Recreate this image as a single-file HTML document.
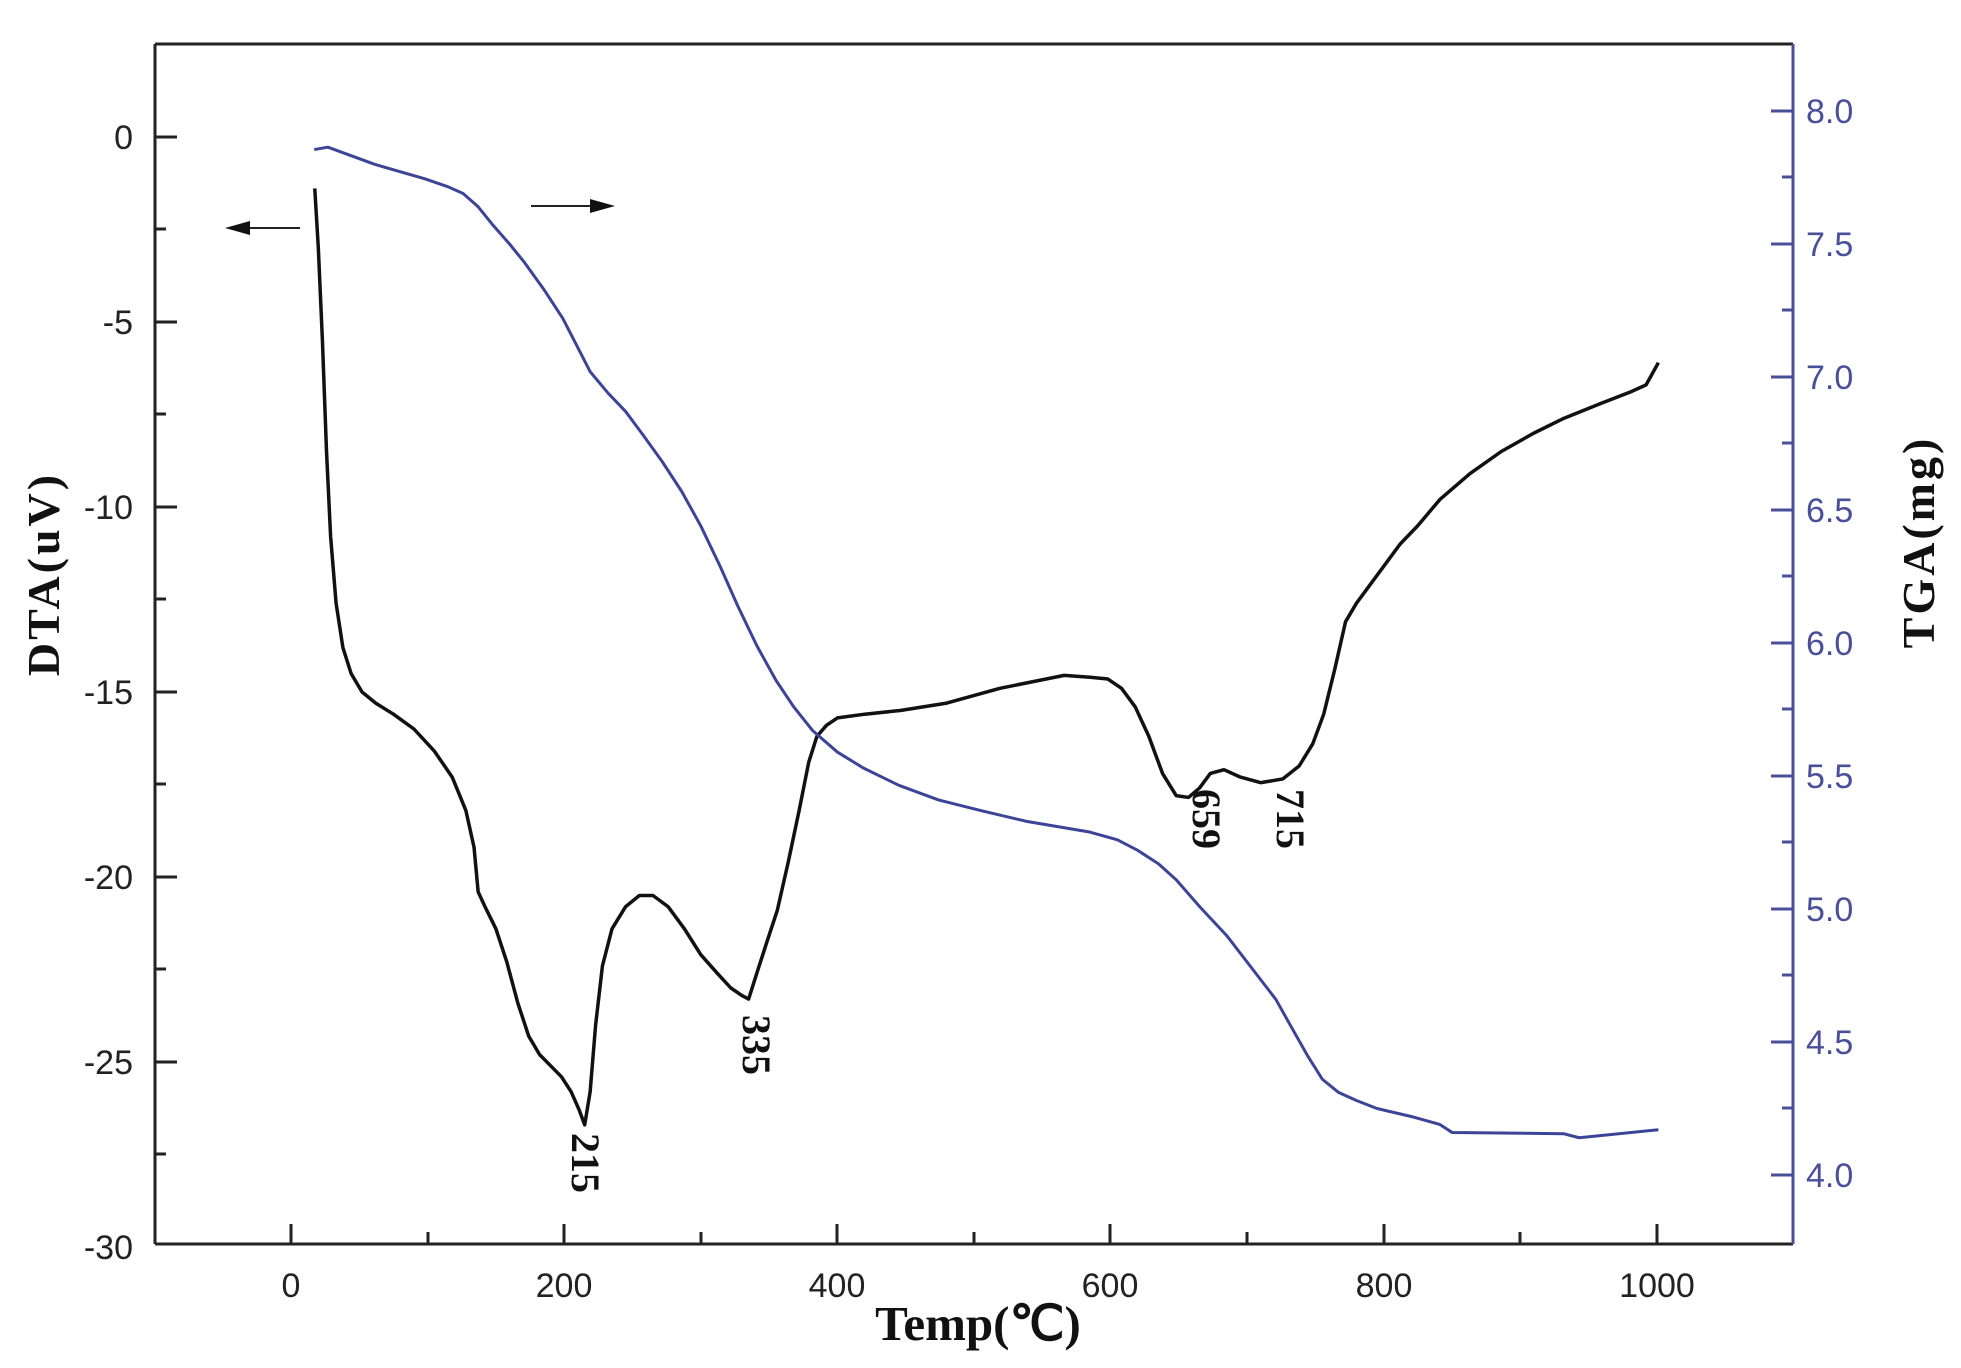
<!DOCTYPE html>
<html><head><meta charset="utf-8"><style>body{margin:0;background:#fff}svg{display:block}</style></head>
<body>
<svg width="1961" height="1368" viewBox="0 0 1961 1368" xmlns="http://www.w3.org/2000/svg">
<rect width="1961" height="1368" fill="#fff"/>
<line x1="155" y1="44" x2="1793" y2="44" stroke="#222" stroke-width="3"/>
<line x1="155" y1="44" x2="155" y2="1244" stroke="#222" stroke-width="3"/>
<line x1="155" y1="1244" x2="1793" y2="1244" stroke="#222" stroke-width="3"/>
<line x1="1793" y1="44" x2="1793" y2="1244" stroke="#4a4f9a" stroke-width="3"/>
<g stroke="#222" stroke-width="3">
<line x1="291" y1="1244" x2="291" y2="1224"/><line x1="564" y1="1244" x2="564" y2="1224"/><line x1="837" y1="1244" x2="837" y2="1224"/><line x1="1110" y1="1244" x2="1110" y2="1224"/><line x1="1384" y1="1244" x2="1384" y2="1224"/><line x1="1657" y1="1244" x2="1657" y2="1224"/>
<line x1="428" y1="1244" x2="428" y2="1232"/><line x1="701" y1="1244" x2="701" y2="1232"/><line x1="974" y1="1244" x2="974" y2="1232"/><line x1="1247" y1="1244" x2="1247" y2="1232"/><line x1="1520" y1="1244" x2="1520" y2="1232"/>
</g>
<g font-family="Liberation Sans, sans-serif" font-size="34" fill="#222" text-anchor="middle">
<text x="291" y="1297">0</text><text x="564" y="1297">200</text><text x="837" y="1297">400</text><text x="1110" y="1297">600</text><text x="1384" y="1297">800</text><text x="1657" y="1297">1000</text>
</g>
<g stroke="#222" stroke-width="3">
<line x1="155" y1="137" x2="177" y2="137"/><line x1="155" y1="322" x2="177" y2="322"/><line x1="155" y1="507" x2="177" y2="507"/><line x1="155" y1="692" x2="177" y2="692"/><line x1="155" y1="877" x2="177" y2="877"/><line x1="155" y1="1062" x2="177" y2="1062"/>
<line x1="155" y1="229" x2="166" y2="229"/><line x1="155" y1="414" x2="166" y2="414"/><line x1="155" y1="599" x2="166" y2="599"/><line x1="155" y1="784" x2="166" y2="784"/><line x1="155" y1="969" x2="166" y2="969"/><line x1="155" y1="1154" x2="166" y2="1154"/>
</g>
<g font-family="Liberation Sans, sans-serif" font-size="34" fill="#222" text-anchor="end">
<text x="133" y="149">0</text><text x="133" y="334">-5</text><text x="133" y="519">-10</text><text x="133" y="704">-15</text><text x="133" y="889">-20</text><text x="133" y="1074">-25</text><text x="133" y="1259">-30</text>
</g>
<g stroke="#4a4f9a" stroke-width="3">
<line x1="1793" y1="111" x2="1771" y2="111"/><line x1="1793" y1="244" x2="1771" y2="244"/><line x1="1793" y1="377" x2="1771" y2="377"/><line x1="1793" y1="510" x2="1771" y2="510"/><line x1="1793" y1="643" x2="1771" y2="643"/><line x1="1793" y1="776" x2="1771" y2="776"/><line x1="1793" y1="909" x2="1771" y2="909"/><line x1="1793" y1="1042" x2="1771" y2="1042"/><line x1="1793" y1="1175" x2="1771" y2="1175"/>
<line x1="1793" y1="177" x2="1782" y2="177"/><line x1="1793" y1="310" x2="1782" y2="310"/><line x1="1793" y1="443" x2="1782" y2="443"/><line x1="1793" y1="576" x2="1782" y2="576"/><line x1="1793" y1="709" x2="1782" y2="709"/><line x1="1793" y1="842" x2="1782" y2="842"/><line x1="1793" y1="975" x2="1782" y2="975"/><line x1="1793" y1="1108" x2="1782" y2="1108"/>
</g>
<g font-family="Liberation Sans, sans-serif" font-size="34" fill="#4a4f9a">
<text x="1806" y="123">8.0</text><text x="1806" y="256">7.5</text><text x="1806" y="389">7.0</text><text x="1806" y="522">6.5</text><text x="1806" y="655">6.0</text><text x="1806" y="788">5.5</text><text x="1806" y="921">5.0</text><text x="1806" y="1054">4.5</text><text x="1806" y="1187">4.0</text>
</g>
<g font-family="Liberation Serif, serif" font-weight="bold" fill="#111">
<text x="978" y="1340" font-size="49" text-anchor="middle">Temp(℃)</text>
<text transform="translate(59,574) rotate(-90)" font-size="46" letter-spacing="3" text-anchor="middle">DTA(uV)</text>
<text transform="translate(1934,542) rotate(-90)" font-size="46" letter-spacing="3" text-anchor="middle">TGA(mg)</text>
</g>
<g transform="matrix(1.366 0 0 -37 291 137)">
<polyline fill="none" stroke="#111" stroke-width="3.5" vector-effect="non-scaling-stroke" stroke-linejoin="round" points="17.4,-1.39 20,-3 23,-5.5 26,-8.5 29,-10.8 33,-12.6 38,-13.8 44,-14.5 52,-15.0 62,-15.3 75,-15.6 90,-16.0 105,-16.6 118,-17.3 128,-18.2 134,-19.2 137,-20.4 142,-20.8 150,-21.4 158,-22.3 166,-23.4 174,-24.3 182,-24.8 190,-25.1 198,-25.4 205,-25.8 211,-26.3 215,-26.7 219,-25.8 223,-24.0 228,-22.4 235,-21.4 245,-20.8 255,-20.5 265,-20.5 276,-20.8 288,-21.4 300,-22.1 312,-22.6 322,-23.0 330,-23.2 335,-23.3 341,-22.6 348,-21.8 356,-20.9 364,-19.6 372,-18.2 379,-16.9 385,-16.2 392,-15.9 400,-15.7 420,-15.6 446,-15.5 480,-15.3 519,-14.9 566,-14.55 585,-14.6 598,-14.65 608,-14.9 618,-15.4 628,-16.2 638,-17.2 648,-17.8 657,-17.85 665,-17.6 673,-17.2 683,-17.1 695,-17.3 710,-17.45 726,-17.35 738,-17.0 748,-16.4 756,-15.6 764,-14.4 772,-13.1 780,-12.6 790,-12.1 800,-11.6 812,-11.0 825,-10.5 841,-9.8 863,-9.1 886,-8.5 910,-8.0 932,-7.6 959,-7.2 980,-6.9 992,-6.7 1001,-6.1"/>
</g>
<g transform="matrix(1.366 0 0 -266 291 2239)">
<polyline fill="none" stroke="#3c4498" stroke-width="3" vector-effect="non-scaling-stroke" stroke-linejoin="round" points="17,7.855 27,7.864 61,7.80 98,7.745 115,7.715 126,7.69 137,7.64 148,7.57 160,7.50 171,7.43 185,7.33 199,7.22 210,7.11 219,7.02 232,6.94 245,6.87 258,6.78 272,6.68 286,6.57 300,6.44 314,6.29 327,6.14 341,5.99 355,5.86 368,5.76 382,5.67 400,5.59 419,5.53 445,5.465 474,5.41 505,5.37 538,5.33 584,5.29 605,5.26 620,5.22 635,5.17 648,5.11 665,5.01 685,4.90 703,4.78 721,4.66 733,4.55 744,4.45 755,4.36 767,4.31 780,4.28 795,4.25 820,4.22 841,4.19 850,4.16 932,4.155 943,4.14 1001,4.17"/>
</g>
<line x1="300" y1="228" x2="240" y2="228" stroke="#222" stroke-width="2"/>
<polygon points="225,228 250,221 250,235" fill="#111"/>
<line x1="531" y1="206" x2="600" y2="206" stroke="#222" stroke-width="2"/>
<polygon points="615,206 590,199 590,213" fill="#111"/>
<g font-family="Liberation Serif, serif" font-weight="bold" font-size="40" fill="#111" text-anchor="middle">
<text transform="translate(585,1163) rotate(90)" dy="13">215</text>
<text transform="translate(756,1045) rotate(90)" dy="13">335</text>
<text transform="translate(1206,819) rotate(90)" dy="13">659</text>
<text transform="translate(1290,819) rotate(90)" dy="13">715</text>
</g>
</svg>
</body></html>
